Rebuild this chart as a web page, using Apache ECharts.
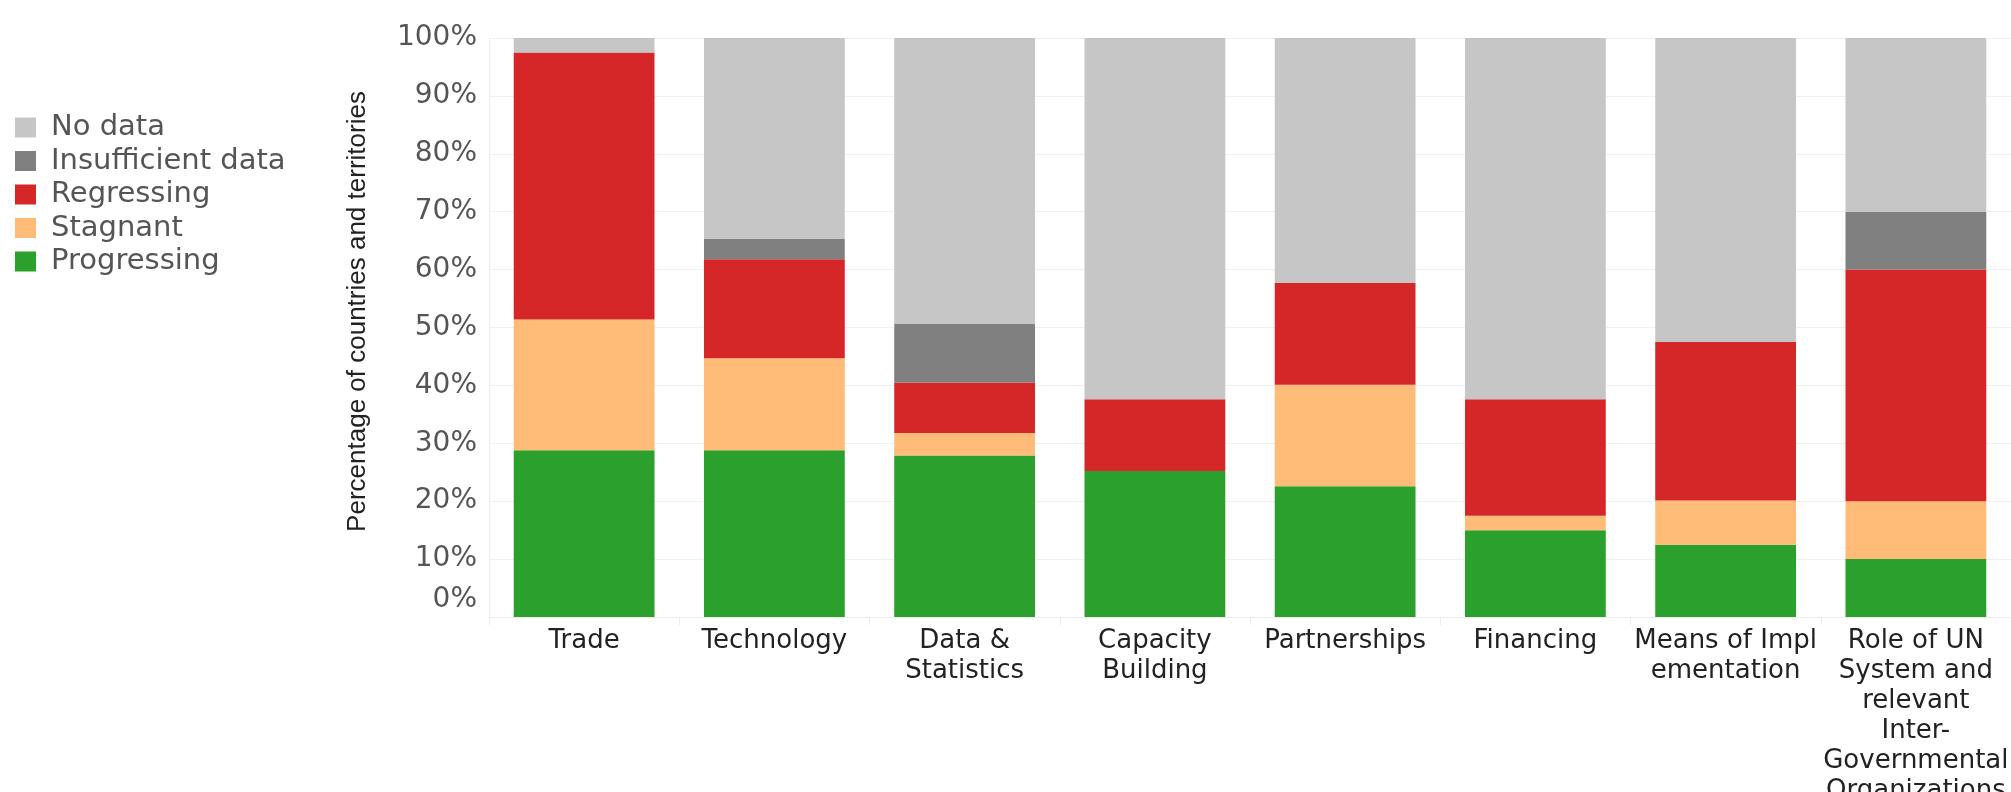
<!DOCTYPE html>
<html>
<head>
<meta charset="utf-8">
<script src="https://cdn.jsdelivr.net/npm/echarts@6/dist/echarts.min.js"></script>
<style>
  html, body { margin: 0; padding: 0; background: #fff; }
  #chart { width: 2011px; height: 792px; }
</style>
</head>
<body>
<div id="chart"></div>
<script>
// categories (line breaks as in the picture)
var categories = ['Trade', 'Technology', 'Data &\nStatistics', 'Capacity\nBuilding', 'Partnerships',
  'Financing', 'Means of Impl\nementation',
  'Role of UN\nSystem and\nrelevant\nInter-\nGovernmental\nOrganizations']

// percentage of countries and territories
var progressing = [28.8, 28.8, 27.9, 25.2, 22.6, 15.0, 12.5, 10.0]
var stagnant = [22.6, 15.9, 3.9, 0, 17.5, 2.5, 7.6, 10.0]
var regressing = [46.1, 17.1, 8.7, 12.4, 17.6, 20.1, 27.4, 40.0]
var insufficient = [0, 3.5, 10.1, 0, 0, 0, 0, 10.0]
var noData = [2.5, 34.7, 49.4, 62.4, 42.3, 62.4, 52.5, 30.0]

var legendOrder = ['No data', 'Insufficient data', 'Regressing', 'Stagnant', 'Progressing']

var myChart = echarts.init(document.getElementById('chart'))

var makeSeries = function (name, data, color) {
  return {
    name: name,
    type: 'bar',
    stack: 'total',
    barWidth: '74%',
    data: data,
    itemStyle: { color: color },
    emphasis: { disabled: true }
  }
}

myChart.setOption({
  animation: false,
  textStyle: { fontFamily: 'DejaVu Sans' },
  legend: {
    data: legendOrder,
    orient: 'vertical',
    left: 10,
    top: 108,
    icon: 'rect',
    itemWidth: 21,
    itemHeight: 20,
    itemGap: 4.5,
    selectedMode: false,
    textStyle: {
      fontSize: 29,
      color: '#555',
      padding: [0, 0, 0, 10]
    }
  },
  grid: {
    left: 489,
    right: 0,
    top: 38,
    bottom: 175,
    containLabel: false,
    outerBoundsMode: 'none'
  },
  xAxis: {
    type: 'category',
    data: categories,
    axisLine: { lineStyle: { color: '#ececec' } },
    axisTick: { show: true, length: 8, lineStyle: { color: '#ececec' } },
    axisLabel: {
      interval: 0,
      margin: 9,
      fontSize: 26,
      lineHeight: 30,
      color: '#222',
      verticalAlign: 'top'
    }
  },
  yAxis: {
    type: 'value',
    min: 0,
    max: 100,
    interval: 10,
    name: 'Percentage of countries and territories',
    nameLocation: 'middle',
    nameGap: 118,
    nameTextStyle: {
      fontFamily: 'Liberation Sans',
      fontSize: 26,
      color: '#222',
      padding: [0, 0, 0, 32]
    },
    axisLine: { show: true, lineStyle: { color: '#ececec' } },
    splitLine: { lineStyle: { color: '#f0f0f0' } },
    axisLabel: {
      margin: 12,
      fontSize: 28,
      color: '#555',
      formatter: function (v) {
        // the 0% label sits a little above the baseline in the original
        return v === 0 ? '{z|0%}' : v + '%'
      },
      rich: {
        z: { fontSize: 28, color: '#555', padding: [0, 0, 34, 0] }
      }
    }
  },
  series: [
    makeSeries('Progressing', progressing, '#2ca02c'),
    makeSeries('Stagnant', stagnant, '#ffbb78'),
    makeSeries('Regressing', regressing, '#d62728'),
    makeSeries('Insufficient data', insufficient, '#808080'),
    makeSeries('No data', noData, '#c6c6c6')
  ]
})
</script>
</body>
</html>
